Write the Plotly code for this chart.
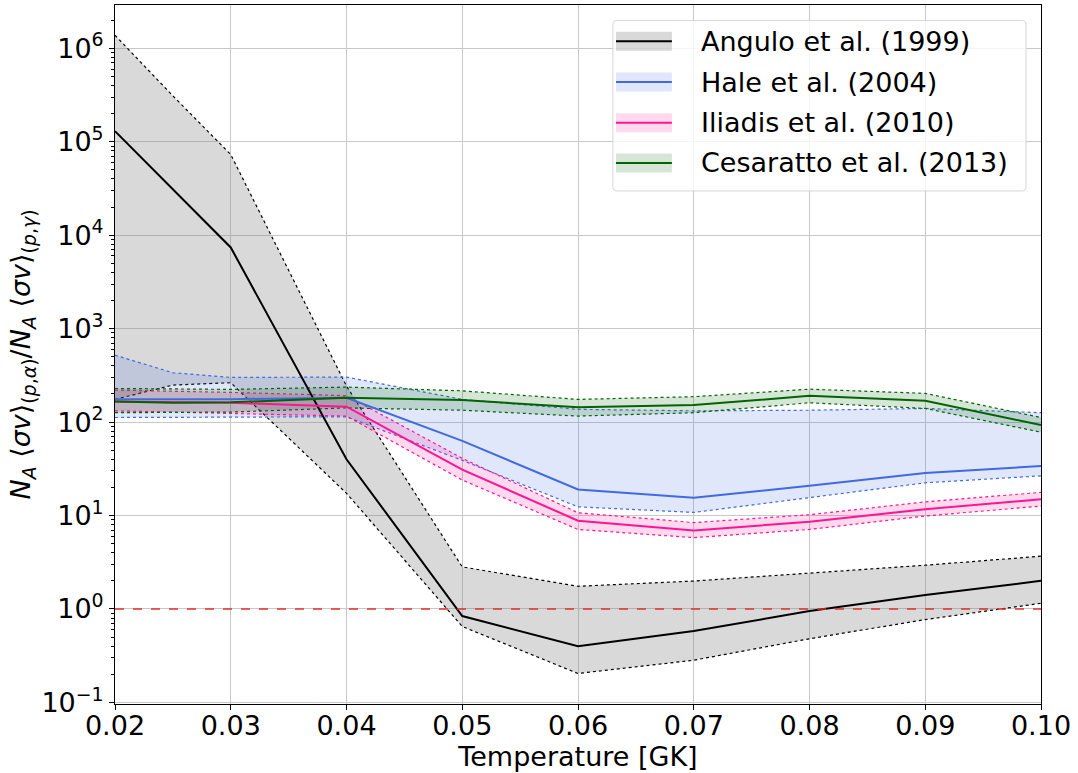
import plotly.graph_objects as go

# ---------------- data ----------------
temperature = [0.02, 0.025, 0.03, 0.04, 0.05, 0.06, 0.07, 0.08, 0.09, 0.10]

angulo_mid = [1.3e5, 3.1e4, 7.4e3, 40, 0.84, 0.40, 0.58, 0.95, 1.41, 2.0]
angulo_hi = [1.38e6, 3.1e5, 7.3e4, 243, 2.82, 1.75, 1.99, 2.4, 2.94, 3.67]
angulo_lo = [175, 249, 264, 17.3, 0.65, 0.204, 0.283, 0.48, 0.77, 1.15]

hale_mid = [176, 176, 176, 182, 63, 19, 15.5, 20.8, 28.6, 33.8]
hale_hi = [520, 337, 301, 303, 175, 137, 132, 134, 140, 126]
hale_lo = [112, 112, 112, 114, 39, 12.4, 10.8, 15.5, 22.4, 26.6]

iliadis_mid = [166, 164, 161, 146, 31, 8.8, 6.9, 8.6, 11.7, 14.9]
iliadis_hi = [220, 214, 208, 192, 41, 10.7, 8.4, 10.2, 14.0, 17.7]
iliadis_lo = [132, 128, 124, 116, 24, 7.1, 5.8, 7.1, 9.9, 12.6]

cesaratto_mid = [166, 161, 163, 182, 172, 144, 152, 191, 169, 93]
cesaratto_hi = [229, 226, 224, 237, 216, 175, 187, 225, 203, 112]
cesaratto_lo = [126, 127, 128, 142, 134, 116, 126, 161, 140, 78]

labels = ["Angulo et al. (1999)", "Hale et al. (2004)",
          "Iliadis et al. (2010)", "Cesaratto et al. (2013)"]
line_colors = ["#000000", "#4169e1", "#ff1493", "#006400"]
fill_colors = ["rgba(128,128,128,0.30)", "rgba(65,105,225,0.16)",
               "rgba(255,20,147,0.16)", "rgba(0,100,0,0.16)"]

series = [(angulo_lo, angulo_mid, angulo_hi),
          (hale_lo, hale_mid, hale_hi),
          (iliadis_lo, iliadis_mid, iliadis_hi),
          (cesaratto_lo, cesaratto_mid, cesaratto_hi)]

ytick_vals = [0.1, 1, 10, 100, 1e3, 1e4, 1e5, 1e6]
ytick_text = ["10<sup>\u22121</sup>", "10<sup>0</sup>", "10<sup>1</sup>", "10<sup>2</sup>",
              "10<sup>3</sup>", "10<sup>4</sup>", "10<sup>5</sup>", "10<sup>6</sup>"]
xtick_vals = [0.02, 0.03, 0.04, 0.05, 0.06, 0.07, 0.08, 0.09, 0.10]

FONT = "DejaVu Sans"
FS = 27

fig = go.Figure()

for (lo, mid, hi), lc, fc, name in zip(series, line_colors, fill_colors, labels):
    fig.add_trace(go.Scatter(x=temperature, y=lo, mode="lines",
                             line=dict(color=lc, width=1.2, dash="dot"),
                             showlegend=False, hoverinfo="skip"))
    fig.add_trace(go.Scatter(x=temperature, y=hi, mode="lines",
                             line=dict(color=lc, width=1.2, dash="dot"),
                             fill="tonexty", fillcolor=fc,
                             showlegend=False, hoverinfo="skip"))

for (lo, mid, hi), lc, name in zip(series, line_colors, labels):
    fig.add_trace(go.Scatter(x=temperature, y=mid, mode="lines", name=name,
                             line=dict(color=lc, width=2), showlegend=False))

# reference line at ratio = 1
fig.add_trace(go.Scatter(x=[temperature[0], temperature[-1]], y=[1, 1], mode="lines",
                         line=dict(color="#e0302c", width=1.5, dash="dash"),
                         showlegend=False, hoverinfo="skip"))

# ---------------- manual legend (matplotlib style) ----------------
x0, x1, y0, y1 = 0.5376, 0.9838, 0.734, 0.978
rx, ry = 0.0045, 0.006
path = (f"M {x0+rx},{y0} L {x1-rx},{y0} Q {x1},{y0} {x1},{y0+ry} "
        f"L {x1},{y1-ry} Q {x1},{y1} {x1-rx},{y1} L {x0+rx},{y1} "
        f"Q {x0},{y1} {x0},{y1-ry} L {x0},{y0+ry} Q {x0},{y0} {x0+rx},{y0} Z")
shapes = [dict(type="path", xref="paper", yref="paper", path=path,
               fillcolor="rgba(255,255,255,0.8)", line=dict(color="#d5d5d5", width=1),
               layer="above")]
annotations = []
rows = [0.948, 0.8898, 0.8317, 0.774]
px0, px1, ph = 0.5410, 0.6014, 0.0136
for yr, lc, fc, name in zip(rows, line_colors, fill_colors, labels):
    shapes.append(dict(type="rect", xref="paper", yref="paper",
                       x0=px0, x1=px1, y0=yr - ph, y1=yr + ph,
                       fillcolor=fc, line=dict(width=0), layer="above"))
    shapes.append(dict(type="line", xref="paper", yref="paper",
                       x0=px0, x1=px1, y0=yr, y1=yr,
                       line=dict(color=lc, width=2), layer="above"))
    annotations.append(dict(xref="paper", yref="paper", x=0.6310, y=yr,
                            xanchor="left", yanchor="middle", text=name,
                            showarrow=False,
                            font=dict(family=FONT, size=FS, color="black")))

ytitle = ("<i>N<sub>A</sub></i> \u27e8<i>\u03c3v</i>\u27e9<sub>(<i>p</i>,<i>\u03b1</i>)</sub>"
          "/<i>N<sub>A</sub></i> \u27e8<i>\u03c3v</i>\u27e9<sub>(<i>p</i>,<i>\u03b3</i>)</sub>")

fig.update_layout(
    width=1078, height=773,
    margin=dict(l=115, r=37, t=5, b=69),
    paper_bgcolor="white", plot_bgcolor="white",
    font=dict(family=FONT, size=FS, color="black"),
    shapes=shapes, annotations=annotations,
    showlegend=False,
)
fig.update_xaxes(
    range=[0.02, 0.10], tickvals=xtick_vals, tickformat=".2f",
    showgrid=True, gridcolor="#c8c8c8", gridwidth=1,
    showline=True, linecolor="black", linewidth=1, mirror=True,
    ticks="outside", ticklen=5, tickcolor="black",
    ticklabelstandoff=-7,
    tickfont=dict(family=FONT, size=FS),
    title=dict(text="Temperature [GK]", font=dict(family=FONT, size=FS), standoff=4),
    zeroline=False, automargin=False,
)
fig.update_yaxes(
    type="log", range=[-1.017, 6.464],
    tickvals=ytick_vals, ticktext=ytick_text,
    showgrid=True, gridcolor="#c8c8c8", gridwidth=1,
    showline=True, linecolor="black", linewidth=1, mirror=True,
    ticks="outside", ticklen=5, tickcolor="black",
    minor=dict(ticks="outside", ticklen=3, tickcolor="black", showgrid=False, dtick="D1"),
    tickfont=dict(family=FONT, size=FS),
    title=dict(text=ytitle, font=dict(family=FONT, size=FS), standoff=2),
    zeroline=False, automargin=False,
)

fig.write_html("out.html", config={"displayModeBar": False},
               post_script="document.body.style.margin='0';")
